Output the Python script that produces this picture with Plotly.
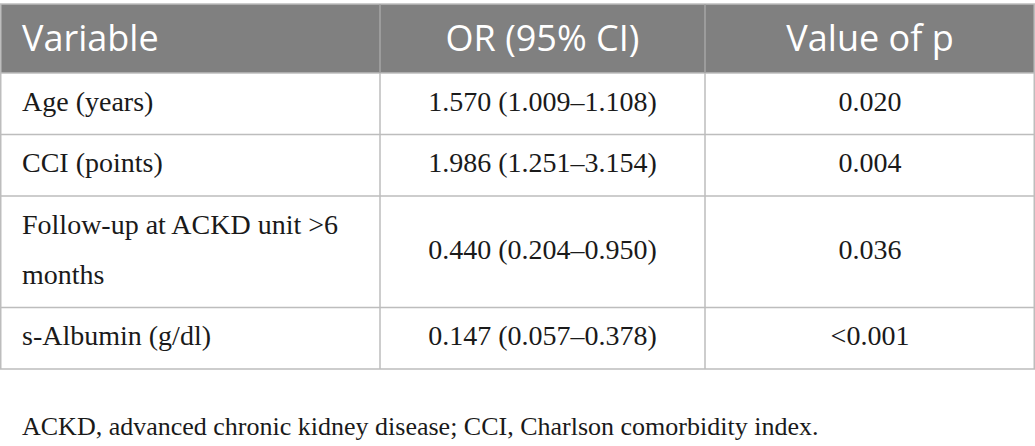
import textwrap
import plotly.graph_objects as go

# table content
headers = ["Variable", "OR (95% CI)", "Value of p"]
variables = ["Age (years)", "CCI (points)", "Follow-up at ACKD unit >6 months", "s-Albumin (g/dl)"]
odds_ratio = [1.570, 1.986, 0.440, 0.147]
ci_low = [1.009, 1.251, 0.204, 0.057]
ci_high = [1.108, 3.154, 0.950, 0.378]
p_values = ["0.020", "0.004", "0.036", "<0.001"]
footnote = "ACKD, advanced chronic kidney disease; CCI, Charlson comorbidity index."

# page geometry (px)
W, H = 1035, 446
col_w = [380, 325, 330]
top = 4
head_h = 69
line_h = 50
row_pad = 11.5
wrap_at = 25
pad_left = 22

head_font = dict(family="Open Sans", size=36, color="white")
body_font = dict(family="Liberation Serif", size=28, color="#1a1a1a")
note_font = dict(family="Liberation Serif", size=26, color="#1a1a1a")
grid = "#bdbdbd"

or_text = [f"{o:.3f} ({l:.3f}\u2013{h:.3f})" for o, l, h in zip(odds_ratio, ci_low, ci_high)]
columns = [variables, or_text, p_values]

col_x = [0]
for w in col_w:
    col_x.append(col_x[-1] + w)

# row boundaries from number of wrapped lines
wrapped = [textwrap.wrap(v, wrap_at) for v in variables]
row_y = [top + head_h]
for lines in wrapped:
    row_y.append(row_y[-1] + row_pad + line_h * len(lines))

fig = go.Figure()

# header
fig.add_shape(type="rect", x0=0, x1=W, y0=top, y1=top + head_h,
              fillcolor="#808080", line_width=0, layer="below")
for j, h in enumerate(headers):
    if j == 0:
        x, pos = col_x[0] + pad_left, "middle right"
    else:
        x, pos = (col_x[j] + col_x[j + 1]) / 2, "middle center"
    fig.add_trace(go.Scatter(x=[x], y=[top + head_h / 2 + 3], mode="text", text=[h],
                             textposition=pos, textfont=head_font,
                             showlegend=False, hoverinfo="skip"))

# body cells
for j, col in enumerate(columns):
    xs, ys, ts = [], [], []
    for i, val in enumerate(col):
        lines = wrapped[i] if j == 0 else [val]
        mid = (row_y[i] + row_y[i + 1]) / 2
        n = len(lines)
        for k, ln in enumerate(lines):
            if j == 0:
                xs.append(col_x[0] + pad_left)
            else:
                xs.append((col_x[j] + col_x[j + 1]) / 2)
            ys.append(mid + (k - (n - 1) / 2) * line_h)
            ts.append(ln)
    fig.add_trace(go.Scatter(x=xs, y=ys, mode="text", text=ts,
                             textposition="middle right" if j == 0 else "middle center",
                             textfont=body_font, showlegend=False, hoverinfo="skip"))

# grid lines
for y in row_y:
    fig.add_shape(type="line", x0=0, x1=W, y0=y, y1=y, line=dict(color=grid, width=1.5))
fig.add_shape(type="line", x0=0, x1=W, y0=top, y1=top, line=dict(color=grid, width=1.5))
for x in col_x[1:-1]:
    fig.add_shape(type="line", x0=x, x1=x, y0=top, y1=top + head_h, line=dict(color="#a6a6a6", width=1.5))
    fig.add_shape(type="line", x0=x, x1=x, y0=top + head_h, y1=row_y[-1], line=dict(color=grid, width=1.5))
for x in [0.75, W - 0.75]:
    fig.add_shape(type="line", x0=x, x1=x, y0=top, y1=row_y[-1], line=dict(color=grid, width=1.5))

# footnote
fig.add_trace(go.Scatter(x=[pad_left], y=[428], mode="text", text=[footnote],
                         textposition="middle right", textfont=note_font,
                         showlegend=False, hoverinfo="skip"))

fig.update_xaxes(range=[0, W], visible=False, fixedrange=True)
fig.update_yaxes(range=[H, 0], visible=False, fixedrange=True)
fig.update_layout(width=W, height=H, margin=dict(l=0, r=0, t=0, b=0),
                  plot_bgcolor="white", paper_bgcolor="white")

fig.write_html("out.html", config={"displayModeBar": False},
               post_script="document.body.style.margin='0';document.body.style.overflow='hidden';")
